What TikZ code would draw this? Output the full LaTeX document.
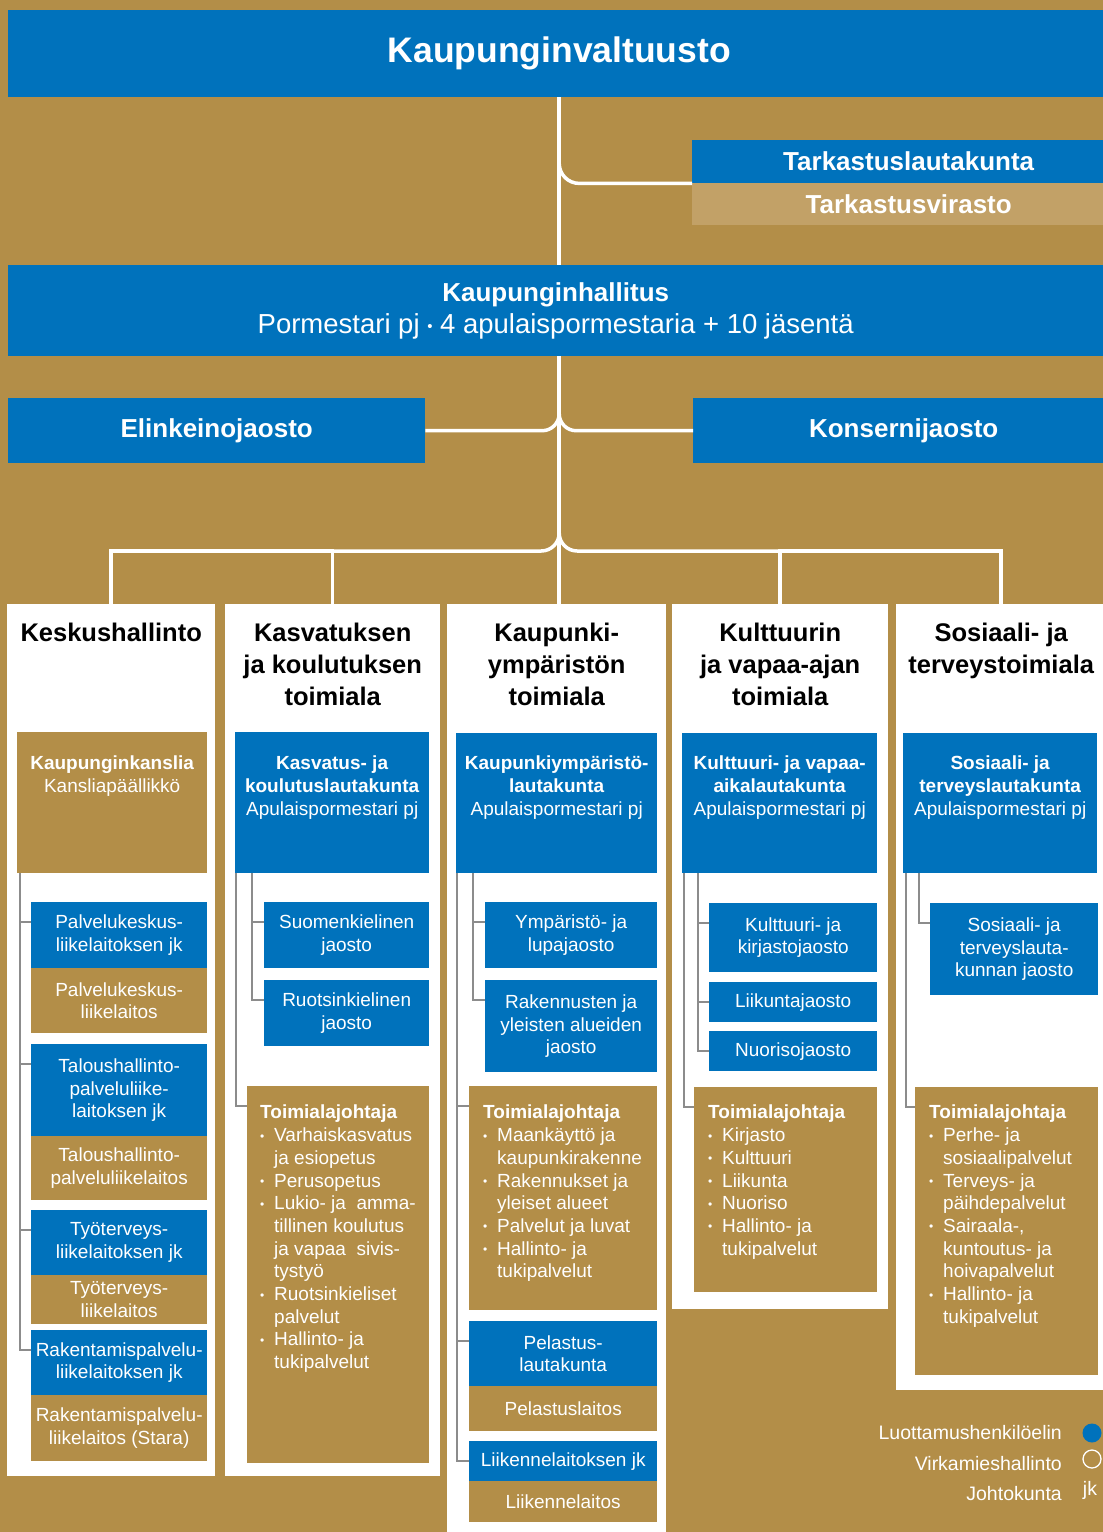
\documentclass[tikz,border=0pt]{standalone}
\usepackage{fontspec}
\setmainfont{Liberation Sans}
\usetikzlibrary{positioning}
\definecolor{hkiblue}{RGB}{0,114,188}
\definecolor{hkigold}{RGB}{179,142,72}
\definecolor{hkisand}{RGB}{194,161,103}
\definecolor{hkigray}{RGB}{140,140,140}

\newcommand{\bodysize}{\fontsize{19}{22.7}\selectfont}
\newcommand{\bul}{\makebox[14pt][l]{\raisebox{1.5pt}{\fontsize{12}{12}\selectfont\textbullet}}}
\newcommand{\cont}{\hspace*{14pt}}

\begin{document}
\begin{tikzpicture}[x=1pt,y=-1pt,
    box/.style={rectangle,inner sep=0pt,anchor=north west,text=white,align=center,font=\bodysize},
    bluebox/.style={box,fill=hkiblue},
    goldbox/.style={box,fill=hkigold},
    colbox/.style={rectangle,inner sep=0pt,anchor=north west,fill=white},
    coltitle/.style={inner sep=0pt,align=center,font=\fontsize{25.5}{32}\selectfont\bfseries},
    boardtext/.style={inner sep=0pt,align=center,text=white,font=\bodysize},
    listtext/.style={inner sep=0pt,align=left,text=white,font=\bodysize},
    legendtext/.style={inner sep=0pt,anchor=east,text=white,font=\fontsize{19.5}{22}\selectfont},
    conn/.style={white,line width=3.5pt},
    subline/.style={hkigray,line width=1.3pt}]

    \useasboundingbox (0,0) rectangle (1103,1532);
    \fill[hkigold] (0,0) rectangle (1103,1532);

    % top level
    \node[bluebox,minimum width=1102pt,minimum height=87pt,font=\fontsize{35.5}{40}\selectfont\bfseries] (valt) at (8,10) {Kaupunginvaltuusto};
    \node[bluebox,minimum width=433pt,minimum height=43pt,font=\fontsize{26}{30}\selectfont\bfseries] (tarklk) at (692,140) {Tarkastuslautakunta};
    \node[box,fill=hkisand,minimum width=433pt,minimum height=42pt,font=\fontsize{26}{30}\selectfont\bfseries] (tarkvir) at (692,183) {Tarkastusvirasto};
    \node[bluebox,minimum width=1095pt,minimum height=91pt,font=\fontsize{26}{32}\selectfont] (hall) at (8,265) {\textbf{Kaupunginhallitus}\\{\fontsize{27.5}{32}\selectfont Pormestari pj \raisebox{2pt}{\fontsize{15}{15}\selectfont\textbullet} 4 apulaispormestaria + 10 jäsentä}};
    \node[bluebox,minimum width=417pt,minimum height=65pt,font=\fontsize{26}{30}\selectfont\bfseries] (elin) at (8,398) {Elinkeinojaosto};
    \node[bluebox,minimum width=421pt,minimum height=65pt,font=\fontsize{26}{30}\selectfont\bfseries] (kons) at (693,398) {Konsernijaosto};

    % toimialat
    \node[colbox,minimum width=208pt,minimum height=872pt] (col1) at (7,604) {};
    \node[colbox,minimum width=215pt,minimum height=872pt] (col2) at (225,604) {};
    \node[colbox,minimum width=219pt,minimum height=940pt] (col3) at (447,604) {};
    \node[colbox,minimum width=216pt,minimum height=705pt] (col4) at (672,604) {};
    \node[colbox,minimum width=210pt,minimum height=786pt] (col5) at (896,604) {};

    \node[coltitle,below=19pt of col1.north] (t1) {Keskushallinto};
    \node[coltitle,below=19pt of col2.north] (t2) {Kasvatuksen\\ja koulutuksen\\toimiala};
    \node[coltitle,below=19pt of col3.north] (t3) {Kaupunki-\\ympäristön\\toimiala};
    \node[coltitle,below=19pt of col4.north] (t4) {Kulttuurin\\ja vapaa-ajan\\toimiala};
    \node[coltitle,below=19pt of col5.north] (t5) {Sosiaali- ja\\terveystoimiala};

    % keskushallinto
    \node[goldbox,minimum width=190pt,minimum height=141pt] (kanslia) at (17,732) {};
    \node[boardtext,below=24pt of kanslia.north] (kanslia-t) {\textbf{Kaupunginkanslia}\\Kansliapäällikkö};
    \node[bluebox,minimum width=176pt,minimum height=66pt] (pkjk) at (31,902) {Palvelukeskus-\\liikelaitoksen jk};
    \node[goldbox,minimum width=176pt,minimum height=65pt] (pkl) at (31,968) {Palvelukeskus-\\liikelaitos};
    \node[bluebox,minimum width=176pt,minimum height=92pt] (thjk) at (31,1044) {Taloushallinto-\\palveluliike-\\laitoksen jk};
    \node[goldbox,minimum width=176pt,minimum height=64pt] (thl) at (31,1136) {Taloushallinto-\\palveluliikelaitos};
    \node[bluebox,minimum width=176pt,minimum height=65pt] (tyjk) at (31,1210) {Työterveys-\\liikelaitoksen jk};
    \node[goldbox,minimum width=176pt,minimum height=49pt] (tyl) at (31,1275) {Työterveys-\\liikelaitos};
    \node[bluebox,minimum width=176pt,minimum height=65pt] (rpjk) at (31,1330) {Rakentamispalvelu-\\liikelaitoksen jk};
    \node[goldbox,minimum width=176pt,minimum height=66pt] (rpl) at (31,1395) {Rakentamispalvelu-\\liikelaitos (Stara)};

    % kasvatus ja koulutus
    \node[bluebox,minimum width=194pt,minimum height=141pt] (kklk) at (235,732) {};
    \node[boardtext,below=24pt of kklk.north] (kklk-t) {\textbf{Kasvatus- ja}\\\textbf{koulutuslautakunta}\\Apulaispormestari pj};
    \node[bluebox,minimum width=165pt,minimum height=66pt] (suom) at (264,902) {Suomenkielinen\\jaosto};
    \node[bluebox,minimum width=165pt,minimum height=66pt] (ruots) at (264,980) {Ruotsinkielinen\\jaosto};
    \node[goldbox,minimum width=182pt,minimum height=377pt] (kktj) at (247,1086) {};
    \node[listtext,below right=19pt and 13pt of kktj.north west] (kktj-t) {\textbf{Toimialajohtaja}\\
      \bul Varhaiskasvatus\\\cont ja esiopetus\\
      \bul Perusopetus\\
      \bul Lukio- ja\ \ amma-\\\cont tillinen koulutus\\\cont ja vapaa\ \ sivis-\\\cont tystyö\\
      \bul Ruotsinkieliset\\\cont palvelut\\
      \bul Hallinto- ja\\\cont tukipalvelut};

    % kaupunkiympäristö
    \node[bluebox,minimum width=201pt,minimum height=140pt] (kylk) at (456,733) {};
    \node[boardtext,below=23pt of kylk.north] (kylk-t) {\textbf{Kaupunkiympäristö-}\\\textbf{lautakunta}\\Apulaispormestari pj};
    \node[bluebox,minimum width=172pt,minimum height=66pt] (ymp) at (485,902) {Ympäristö- ja\\lupajaosto};
    \node[bluebox,minimum width=172pt,minimum height=92pt] (rak) at (485,980) {Rakennusten ja\\yleisten alueiden\\jaosto};
    \node[goldbox,minimum width=188pt,minimum height=224pt] (kytj) at (469,1086) {};
    \node[listtext,below right=19pt and 14pt of kytj.north west] (kytj-t) {\textbf{Toimialajohtaja}\\
      \bul Maankäyttö ja\\\cont kaupunkirakenne\\
      \bul Rakennukset ja\\\cont yleiset alueet\\
      \bul Palvelut ja luvat\\
      \bul Hallinto- ja\\\cont tukipalvelut};
    \node[bluebox,minimum width=188pt,minimum height=65pt] (pelk) at (469,1321) {Pelastus-\\lautakunta};
    \node[goldbox,minimum width=188pt,minimum height=45pt] (pell) at (469,1386) {Pelastuslaitos};
    \node[bluebox,minimum width=188pt,minimum height=40pt] (liijk) at (469,1441) {Liikennelaitoksen jk};
    \node[goldbox,minimum width=188pt,minimum height=41pt] (liil) at (469,1481) {Liikennelaitos};

    % kulttuuri ja vapaa-aika
    \node[bluebox,minimum width=195pt,minimum height=140pt] (kvlk) at (682,733) {};
    \node[boardtext,below=23pt of kvlk.north] (kvlk-t) {\textbf{Kulttuuri- ja vapaa-}\\\textbf{aikalautakunta}\\Apulaispormestari pj};
    \node[bluebox,minimum width=168pt,minimum height=69pt] (kkj) at (709,903) {Kulttuuri- ja\\kirjastojaosto};
    \node[bluebox,minimum width=168pt,minimum height=40pt] (liik) at (709,982) {Liikuntajaosto};
    \node[bluebox,minimum width=168pt,minimum height=40pt] (nuor) at (709,1031) {Nuorisojaosto};
    \node[goldbox,minimum width=183pt,minimum height=205pt] (kvtj) at (694,1087) {};
    \node[listtext,below right=18pt and 14pt of kvtj.north west] (kvtj-t) {\textbf{Toimialajohtaja}\\
      \bul Kirjasto\\
      \bul Kulttuuri\\
      \bul Liikunta\\
      \bul Nuoriso\\
      \bul Hallinto- ja\\\cont tukipalvelut};

    % sosiaali ja terveys
    \node[bluebox,minimum width=194pt,minimum height=140pt] (stlk) at (903,733) {};
    \node[boardtext,below=23pt of stlk.north] (stlk-t) {\textbf{Sosiaali- ja}\\\textbf{terveyslautakunta}\\Apulaispormestari pj};
    \node[bluebox,minimum width=168pt,minimum height=92pt] (stj) at (930,903) {Sosiaali- ja\\terveyslauta-\\kunnan jaosto};
    \node[goldbox,minimum width=183pt,minimum height=288pt] (sttj) at (915,1087) {};
    \node[listtext,below right=18pt and 14pt of sttj.north west] (sttj-t) {\textbf{Toimialajohtaja}\\
      \bul Perhe- ja\\\cont sosiaalipalvelut\\
      \bul Terveys- ja\\\cont päihdepalvelut\\
      \bul Sairaala-,\\\cont kuntoutus- ja\\\cont hoivapalvelut\\
      \bul Hallinto- ja\\\cont tukipalvelut};

    % legend
    \node[legendtext] (lluot) at (1062,1433) {Luottamushenkilöelin};
    \node[legendtext] (lvirk) at (1062,1464) {Virkamieshallinto};
    \node[legendtext] (ljoht) at (1062,1494) {Johtokunta};
    \node[circle,fill=hkiblue,inner sep=0pt,minimum size=19pt] (dluot) at (1092,1433) {};
    \node[circle,draw=white,line width=1.3pt,inner sep=0pt,minimum size=18pt] (dvirk) at (1092,1459) {};
    \node[inner sep=0pt,text=white,font=\fontsize{19.5}{22}\selectfont] (djoht) at (1090,1490) {jk};

    % white connectors
    \coordinate (tr) at (valt.south);
    \coordinate (bar) at (559,551);
    \draw[conn] (tr) -- (tr |- hall.north);
    \draw[conn,rounded corners=20pt] (tr) |- (tarklk.south west);
    \draw[conn] (tr |- hall.south) -- (tr |- col3.north);
    \draw[conn,rounded corners=17pt] (elin.east) -| (tr |- elin.north);
    \draw[conn,rounded corners=17pt] (kons.west) -| (tr |- kons.north);
    \draw[conn] (col1.north) |- (col2.north |- bar) -- (col2.north);
    \draw[conn,rounded corners=18pt] (col2.north |- bar) -- (tr |- bar) -- (tr |- elin.south);
    \draw[conn] (col5.north) |- (col4.north |- bar) -- (col4.north);
    \draw[conn,rounded corners=18pt] (col4.north |- bar) -- (tr |- bar) -- (tr |- kons.south);

    % grey connectors
    \foreach \b in {pkjk,thjk,tyjk,rpjk}
      \draw[subline] ([xshift=3pt]kanslia.south west) |- ([yshift=-20pt]\b.north west);
    \draw[subline] ([xshift=1pt]kklk.south west) |- ([yshift=-20pt]kktj.north west);
    \foreach \b in {suom,ruots}
      \draw[subline] ([xshift=17pt]kklk.south west) |- ([yshift=-20pt]\b.north west);
    \foreach \b in {kytj,pelk,liijk}
      \draw[subline] ([xshift=1pt]kylk.south west) |- ([yshift=-20pt]\b.north west);
    \foreach \b in {ymp,rak}
      \draw[subline] ([xshift=17pt]kylk.south west) |- ([yshift=-20pt]\b.north west);
    \draw[subline] ([xshift=2pt]kvlk.south west) |- ([yshift=-20pt]kvtj.north west);
    \foreach \b in {kkj,liik,nuor}
      \draw[subline] ([xshift=16pt]kvlk.south west) |- ([yshift=-20pt]\b.north west);
    \draw[subline] ([xshift=3pt]stlk.south west) |- ([yshift=-20pt]sttj.north west);
    \draw[subline] ([xshift=16pt]stlk.south west) |- ([yshift=-20pt]stj.north west);
\end{tikzpicture}
\end{document}
